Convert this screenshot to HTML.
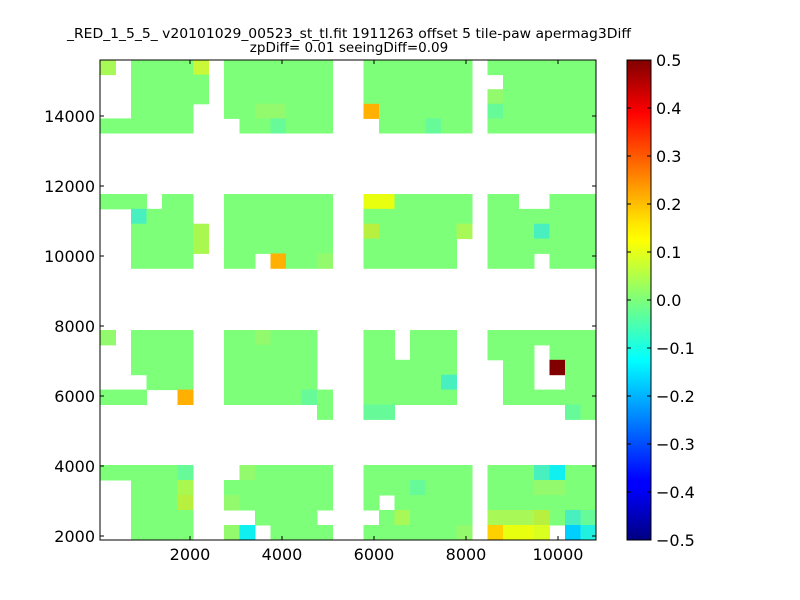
<!DOCTYPE html>
<html><head><meta charset="utf-8"><style>
html,body{margin:0;padding:0;background:#fff;width:800px;height:600px;overflow:hidden}
text{font-family:"DejaVu Sans","Liberation Sans",sans-serif;fill:#000}
</style></head><body>
<svg id="s" width="800" height="600" xmlns="http://www.w3.org/2000/svg">
<defs><linearGradient id="jet" x1="0" y1="1" x2="0" y2="0">
<stop offset="0" stop-color="#000080"/><stop offset="0.11" stop-color="#0000ff"/><stop offset="0.125" stop-color="#0000ff"/>
<stop offset="0.34" stop-color="#00dcff"/><stop offset="0.375" stop-color="#00ffff"/><stop offset="0.5" stop-color="#7dff7a"/>
<stop offset="0.625" stop-color="#ffff00"/><stop offset="0.66" stop-color="#ffe600"/><stop offset="0.89" stop-color="#ff0000"/><stop offset="1" stop-color="#800000"/>
</linearGradient></defs>
<g id="cells"></g>
<rect x="100" y="60" width="496" height="480" fill="none" stroke="#000" stroke-width="1"/>
<g stroke="#000" stroke-width="1">
<line x1="190" y1="540" x2="190" y2="536"/><line x1="282" y1="540" x2="282" y2="536"/><line x1="374" y1="540" x2="374" y2="536"/><line x1="466" y1="540" x2="466" y2="536"/><line x1="558" y1="540" x2="558" y2="536"/>
<line x1="190" y1="60" x2="190" y2="64"/><line x1="282" y1="60" x2="282" y2="64"/><line x1="374" y1="60" x2="374" y2="64"/><line x1="466" y1="60" x2="466" y2="64"/><line x1="558" y1="60" x2="558" y2="64"/>
<line x1="100" y1="536" x2="104" y2="536"/><line x1="100" y1="466" x2="104" y2="466"/><line x1="100" y1="396" x2="104" y2="396"/><line x1="100" y1="326" x2="104" y2="326"/><line x1="100" y1="256" x2="104" y2="256"/><line x1="100" y1="186" x2="104" y2="186"/><line x1="100" y1="116" x2="104" y2="116"/>
<line x1="596" y1="536" x2="592" y2="536"/><line x1="596" y1="466" x2="592" y2="466"/><line x1="596" y1="396" x2="592" y2="396"/><line x1="596" y1="326" x2="592" y2="326"/><line x1="596" y1="256" x2="592" y2="256"/><line x1="596" y1="186" x2="592" y2="186"/><line x1="596" y1="116" x2="592" y2="116"/>
</g>
<g font-size="16" text-anchor="middle">
<text x="190" y="560">2000</text><text x="282" y="560">4000</text><text x="374" y="560">6000</text><text x="466" y="560">8000</text><text x="558" y="560">10000</text>
</g>
<g font-size="16" text-anchor="end">
<text x="95" y="542">2000</text><text x="95" y="472">4000</text><text x="95" y="402">6000</text><text x="95" y="332">8000</text><text x="95" y="262">10000</text><text x="95" y="192">12000</text><text x="95" y="122">14000</text>
</g>
<g font-size="13.5" text-anchor="middle">
<text x="349" y="38" textLength="564" lengthAdjust="spacingAndGlyphs">_RED_1_5_5_ v20101029_00523_st_tl.fit 1911263 offset 5 tile-paw apermag3Diff</text>
<text x="349" y="52">zpDiff= 0.01 seeingDiff=0.09</text>
</g>
<rect x="627" y="60" width="24" height="480" fill="url(#jet)" stroke="#000" stroke-width="1"/>
<g stroke="#000" stroke-width="1">
<line x1="647" y1="108" x2="651" y2="108"/><line x1="647" y1="156" x2="651" y2="156"/><line x1="647" y1="204" x2="651" y2="204"/><line x1="647" y1="252" x2="651" y2="252"/><line x1="647" y1="300" x2="651" y2="300"/><line x1="647" y1="348" x2="651" y2="348"/><line x1="647" y1="396" x2="651" y2="396"/><line x1="647" y1="444" x2="651" y2="444"/><line x1="647" y1="492" x2="651" y2="492"/>
<line x1="627" y1="108" x2="631" y2="108"/><line x1="627" y1="156" x2="631" y2="156"/><line x1="627" y1="204" x2="631" y2="204"/><line x1="627" y1="252" x2="631" y2="252"/><line x1="627" y1="300" x2="631" y2="300"/><line x1="627" y1="348" x2="631" y2="348"/><line x1="627" y1="396" x2="631" y2="396"/><line x1="627" y1="444" x2="631" y2="444"/><line x1="627" y1="492" x2="631" y2="492"/>
</g>
<g font-size="16">
<text x="656" y="66">0.5</text><text x="656" y="114">0.4</text><text x="656" y="162">0.3</text><text x="656" y="210">0.2</text><text x="656" y="258">0.1</text><text x="656" y="306">0.0</text><text x="656" y="354">−0.1</text><text x="656" y="402">−0.2</text><text x="656" y="450">−0.3</text><text x="656" y="498">−0.4</text><text x="656" y="546">−0.5</text>
</g>
</svg>
<script>
var C={g:"#7eff7a",a:"#a8f858",y:"#c8f838",h:"#92fa6c",c:"#66fa98",o:"#ffb000",Y:"#e8ff10",C:"#48f0c0",A:"#a8f850",B:"#b8f040",R:"#800000",D:"#10f0f0",O:"#ffd000",Z:"#d8ff20",E:"#00d0ff",d:"#20f0e0"};
var bands=[
[60,14.6,["a.ggggy.ggggggg..ggggggg.ggggggg","..ggggg.ggggggg..ggggggg..gggggg","..ggggg.ggggggg..ggggggg.hgggggg","..gggg..gghhggg..ogggggg.cgggggg","gggggg...ggcggg...gggcgg.ggggggg"]],
[194,14.86,["ggg.gg..ggggggg..YYggggg.gg..ggg","..Cggg..ggggggg..ggggggg.ggggggg","..ggggA.ggggggg..Bggggga.gggCggg","..ggggA.ggggggg..gggggg..ggggggg","..gggg..gg.oggh..gggggg..ggg.ggg"]],
[330,14.9,["h.gggg..gghggg...gg.ggg..ggggggg","..gggg..gggggg...gg.ggg..ggg.ggg","..gggg..gggggg...gggggg...gg.Rgg","...ggg..gggggg...gggggC...gg..gg","ggg..o..gggggcg..gggggg...gggggg","..............g..cc...........cg"]],
[465,15,["gggggc...hggggg..ggggggg.gggCDgg","..gggA..ggggggg..gggcggg.ggghhgg","..gggB..hgggggg..g.ggggg.ggggggg","..gggg....gggg....gagggg.aaaBgCc","..gggg..hD.gggg..ggggggh.OYYZ.Ed"]]];
var g=document.getElementById("cells"),h="";
bands.forEach(function(b){b[2].forEach(function(r,i){for(var c=0;c<32;c++){var k=r[c];if(k&&k!="."){h+='<rect x="'+(100+15.5*c)+'" y="'+(b[0]+b[1]*i)+'" width="16" height="'+(b[1]+0.5)+'" fill="'+(C[k]||C.g)+'"/>';}}});});
g.innerHTML=h;
</script>
</body></html>
